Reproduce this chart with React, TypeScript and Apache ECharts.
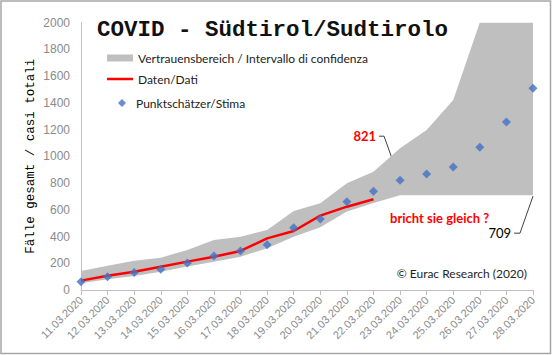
import React, { useEffect, useRef } from "react";
import * as echarts from "echarts";

const dates = [
  "11.03.2020", "12.03.2020", "13.03.2020", "14.03.2020", "15.03.2020", "16.03.2020",
  "17.03.2020", "18.03.2020", "19.03.2020", "20.03.2020", "21.03.2020", "22.03.2020",
  "23.03.2020", "24.03.2020", "25.03.2020", "26.03.2020", "27.03.2020", "28.03.2020",
];
const estimate = [62, 100, 130, 155, 202, 254, 292, 339, 466, 531, 660, 738, 821, 867, 920, 1067, 1256, 1508];
const observed: (number | null)[] = [70, 107, 137, 174, 212, 248, 292, 386, 441, 556, 623, 678, null, null, null, null, null, null];
const lower = [50, 80, 105, 137, 175, 212, 249, 312, 399, 469, 586, 650, 709, 709, 709, 709, 709, 709];
const upper = [142, 182, 219, 242, 299, 374, 399, 449, 591, 648, 798, 885, 1059, 1196, 1421, 2000, 2000, 2000];
const yTicks = { min: 0, max: 2000, interval: 200 };

const BAND = "Vertrauensbereich / Intervallo di confidenza";
const DATA = "Daten/Dati";
const EST = "Punktschätzer/Stima";

export default function App() {
  const ref = useRef<HTMLDivElement>(null);
  useEffect(() => {
    const chart = echarts.init(ref.current!, null, { renderer: "svg" });
    const sans = "Liberation Sans";
    const cal = "Lato";
    const mono = "Liberation Mono";
    const legendText = { fontFamily: cal, fontSize: 12, color: "#222" };
    chart.setOption({
      animation: false,
      backgroundColor: "#fff",
      title: {
        text: "COVID - Südtirol/Sudtirolo",
        left: 92,
        top: 13,
        textStyle: { fontFamily: mono, fontSize: 22.5, fontWeight: "bold", color: "#111" },
      },
      legend: [
        {
          left: 107, top: 52, padding: 0, itemWidth: 26, itemHeight: 7,
          textStyle: legendText, data: [{ name: BAND, icon: "rect" }],
        },
        {
          left: 107, top: 73, padding: 0, itemWidth: 26, itemHeight: 2.5,
          textStyle: legendText, data: [{ name: DATA, icon: "rect" }],
        },
        {
          left: 118, top: 97, padding: 0, itemWidth: 8, itemHeight: 8,
          textStyle: { ...legendText, padding: [0, 0, 0, 5] }, data: [{ name: EST, icon: "diamond" }],
        },
      ],
      grid: { left: 81, right: 19, top: 22.5, bottom: 65 },
      xAxis: {
        type: "category",
        data: dates,
        boundaryGap: false,
        axisLine: { lineStyle: { color: "#BFBFBF", width: 1 } },
        axisTick: { show: true, length: 5, lineStyle: { color: "#BFBFBF" } },
        axisLabel: { rotate: 45, fontFamily: sans, fontSize: 11, color: "#8A8A8A", margin: 8 },
      },
      yAxis: {
        type: "value",
        min: yTicks.min,
        max: yTicks.max,
        interval: yTicks.interval,
        name: "Fälle gesamt / casi totali",
        nameLocation: "middle",
        nameGap: 44,
        nameMoveOverlap: false,
        nameTextStyle: { fontFamily: mono, fontSize: 12.5, color: "#000" },
        axisLine: { show: true, lineStyle: { color: "#BFBFBF", width: 1 } },
        axisTick: { show: false },
        splitLine: { show: false },
        axisLabel: { fontFamily: sans, fontSize: 12, color: "#8A8A8A", margin: 11, formatter: (v: number) => String(v) },
      },
      series: [
        {
          name: "lowerBase",
          type: "line",
          stack: "band",
          data: lower,
          symbol: "none",
          lineStyle: { opacity: 0 },
          silent: true,
          z: 1,
        },
        {
          name: BAND,
          type: "line",
          stack: "band",
          data: upper.map((u, i) => u - lower[i]),
          symbol: "none",
          color: "#BFBFBF",
          lineStyle: { width: 0, opacity: 0 },
          areaStyle: { color: "#BFBFBF", opacity: 1 },
          z: 1,
        },
        {
          name: DATA,
          type: "line",
          data: observed,
          symbol: "none",
          color: "#FF0000",
          lineStyle: { color: "#FF0000", width: 2.5 },
          z: 3,
        },
        {
          name: EST,
          type: "scatter",
          data: estimate,
          symbol: "diamond",
          symbolSize: 9,
          color: "#4472C4",
          itemStyle: { color: "#4472C4" },
          z: 4,
        },
      ],
    });

    const px = (i: number, v: number) => chart.convertToPixel({ gridIndex: 0 }, [i, v]) as number[];
    const i821 = 12;
    const iLast = dates.length - 1;
    const p821 = px(i821, estimate[i821]);
    const pLast = px(iLast, estimate[iLast]);
    const pLow = px(iLast, lower[iLast]);
    const lineStyle = { stroke: "#404040", lineWidth: 1, fill: "none" };
    chart.setOption({
      graphic: [
        {
          type: "rect",
          shape: { x: 1, y: 1, width: 549.5, height: 352.5 },
          style: { fill: "none", stroke: "#A6A6A6", lineWidth: 1.5 },
          silent: true,
        },
        {
          type: "text",
          x: p821[0] - 24,
          y: p821[1] - 44,
          style: { text: String(estimate[i821]), fill: "#FF0000", font: `bold 13px ${cal}`, align: "right", verticalAlign: "middle" },
        },
        {
          type: "polyline",
          shape: { points: [[p821[0] - 21, p821[1] - 44], [p821[0] - 16, p821[1] - 44], [p821[0] - 1, p821[1] - 2]] },
          style: lineStyle,
        },
        {
          type: "text",
          x: pLast[0] - 23,
          y: pLast[1] - 21,
          style: { text: String(estimate[iLast]), fill: "#FF0000", font: `bold 13px ${cal}`, align: "right", verticalAlign: "middle" },
        },
        {
          type: "polyline",
          shape: { points: [[pLast[0] - 20, pLast[1] - 21], [pLast[0] - 15, pLast[1] - 21], [pLast[0] - 1, pLast[1] - 2]] },
          style: lineStyle,
        },
        {
          type: "text",
          x: pLow[0] - 22,
          y: pLow[1] + 38,
          style: { text: String(lower[iLast]), fill: "#000", font: `13px ${cal}`, align: "right", verticalAlign: "middle" },
        },
        {
          type: "polyline",
          shape: { points: [[pLow[0] - 19, pLow[1] + 38], [pLow[0] - 13, pLow[1] + 38], [pLow[0], pLow[1] + 1]] },
          style: lineStyle,
        },
        {
          type: "text",
          x: 390,
          y: 218,
          style: { text: "bricht sie gleich ?", fill: "#FF0000", font: `bold 13px ${cal}`, align: "left", verticalAlign: "middle" },
        },
        {
          type: "text",
          x: 527,
          y: 273,
          style: { text: "© Eurac Research (2020)", fill: "#262626", font: `12px ${cal}`, align: "right", verticalAlign: "middle" },
        },
      ],
    });
    return () => chart.dispose();
  }, []);
  return <div ref={ref} style={{ position: "fixed", left: 0, top: 0, width: 552, height: 355 }} />;
}
